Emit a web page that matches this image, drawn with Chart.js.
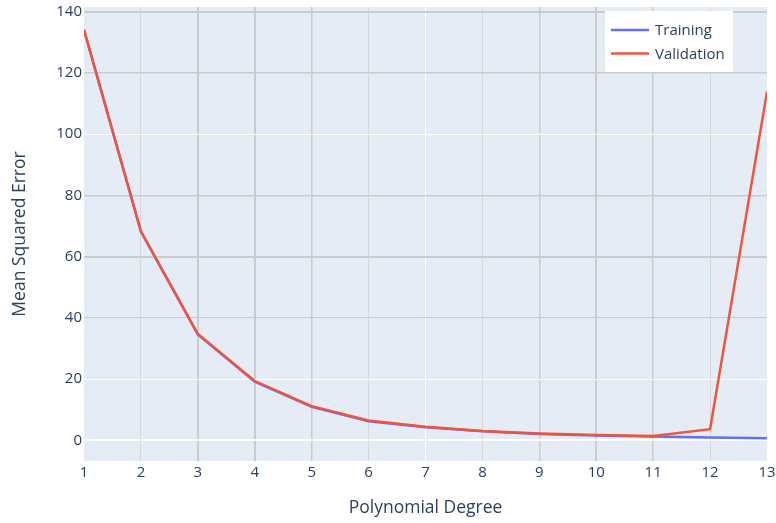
<!DOCTYPE html>
<html>
<head>
<meta charset="utf-8">
<script src="https://cdn.jsdelivr.net/npm/chart.js@4.4.0/dist/chart.umd.min.js"></script>
<style>
  html, body { margin: 0; padding: 0; background: #ffffff; }
  #wrap { width: 776px; height: 523px; position: relative; }
</style>
</head>
<body>
<div id="wrap"><canvas id="c" width="776" height="523"></canvas></div>
<script>
// ---- data ----
const degrees = [1, 2, 3, 4, 5, 6, 7, 8, 9, 10, 11, 12, 13];
const trainingMSE = [134.0, 68.2, 34.6, 19.2, 11.0, 6.3, 4.3, 3.0, 2.1, 1.6, 1.3, 1.0, 0.7];
const validationMSE = [134.1, 68.3, 34.8, 19.4, 11.2, 6.5, 4.5, 3.1, 2.3, 1.8, 1.5, 3.7, 113.8];
const xTicks = [1, 2, 3, 4, 5, 6, 7, 8, 9, 10, 11, 12, 13];
const yTicks = [0, 20, 40, 60, 80, 100, 120, 140];
const seriesNames = ['Training', 'Validation'];

// ---- styles ----
const TEXT = '#2a3f5f';
const FONT = '"Open Sans", "Liberation Sans", Arial, sans-serif';
const PLOT_BG = '#E5ECF6';
const GRAY = '#cbcbcb';
const LIGHT = '#d6d6d6';
// grid appearance per tick (as seen in the reference)
const xGridStyle = {2:[LIGHT,1],3:[GRAY,2],4:[GRAY,2],5:[GRAY,1.5],6:[LIGHT,1],7:['#ffffff',1],8:[LIGHT,1],9:[GRAY,1.5],10:[GRAY,2],11:[GRAY,1.5],12:[LIGHT,1]};
const yGridStyle = {0:['#ffffff',2],20:['#ffffff',1],40:[GRAY,1],60:[GRAY,2],80:[GRAY,1.5],100:['#ffffff',1],120:[GRAY,1.5],140:[GRAY,2]};

const toPts = (xs, ys) => xs.map((x, i) => ({x: x, y: ys[i]}));

const plotBg = {
  id: 'plotBg',
  beforeDraw(chart) {
    const {ctx, chartArea: a} = chart;
    ctx.save();
    ctx.fillStyle = PLOT_BG;
    ctx.fillRect(a.left, a.top, a.right - a.left, a.bottom - a.top);
    ctx.restore();
  }
};

const boxLegend = {
  id: 'boxLegend',
  afterDraw(chart) {
    const {ctx, chartArea: a} = chart;
    const bx = a.right - 162, by = a.top + 4, bw = 128, bh = 61;
    ctx.save();
    ctx.fillStyle = '#ffffff';
    ctx.fillRect(bx, by, bw, bh);
    ctx.font = '15px ' + FONT;
    ctx.textBaseline = 'middle';
    ctx.textAlign = 'left';
    chart.data.datasets.forEach((ds, i) => {
      const y = by + 19 + i * 23.5;
      ctx.strokeStyle = ds.borderColor;
      ctx.lineWidth = 2.5;
      ctx.beginPath();
      ctx.moveTo(bx + 6, y);
      ctx.lineTo(bx + 44, y);
      ctx.stroke();
      ctx.fillStyle = TEXT;
      ctx.fillText(ds.label, bx + 50, y + 1);
    });
    ctx.restore();
  }
};

new Chart(document.getElementById('c'), {
  type: 'line',
  data: {
    datasets: [
      { label: seriesNames[0], data: toPts(degrees, trainingMSE), borderColor: '#636EFA', backgroundColor: '#636EFA', borderWidth: 2.5, pointRadius: 0, tension: 0, order: 2 },
      { label: seriesNames[1], data: toPts(degrees, validationMSE), borderColor: '#EF553B', backgroundColor: '#EF553B', borderWidth: 2.5, pointRadius: 0, tension: 0, order: 1 }
    ]
  },
  options: {
    responsive: false,
    animation: false,
    events: [],
    layout: { padding: { left: 0, right: 9, top: 7, bottom: 0 } },
    plugins: { legend: { display: false }, tooltip: { enabled: false } },
    scales: {
      x: {
        type: 'linear', min: 1, max: 13,
        afterFit(s) { s.height = 62; s.paddingLeft = 0; s.paddingRight = 0; },
        afterBuildTicks(s) { s.ticks = xTicks.map(v => ({ value: v })); },
        border: { display: false },
        grid: {
          drawTicks: false,
          color: c => (xGridStyle[c.tick && c.tick.value] || ['rgba(0,0,0,0)', 1])[0],
          lineWidth: c => (xGridStyle[c.tick && c.tick.value] || ['rgba(0,0,0,0)', 1])[1]
        },
        ticks: { color: TEXT, font: { family: FONT, size: 15 }, padding: 3, maxRotation: 0, autoSkip: false },
        title: { display: true, text: 'Polynomial Degree', color: TEXT, font: { family: FONT, size: 17.5 }, padding: { top: 0, bottom: 4.5 } }
      },
      y: {
        type: 'linear', min: -6.7, max: 141.5,
        afterFit(s) { s.width = 84; s.paddingTop = 0; s.paddingBottom = 0; },
        afterBuildTicks(s) { s.ticks = yTicks.map(v => ({ value: v })); },
        border: { display: false },
        grid: {
          drawTicks: false,
          color: c => (yGridStyle[c.tick && c.tick.value] || ['rgba(0,0,0,0)', 1])[0],
          lineWidth: c => (yGridStyle[c.tick && c.tick.value] || ['rgba(0,0,0,0)', 1])[1]
        },
        ticks: { color: TEXT, font: { family: FONT, size: 15 }, padding: 2 },
        title: { display: true, text: 'Mean Squared Error', color: TEXT, font: { family: FONT, size: 17.5 }, padding: { top: 9.5, bottom: 0 } }
      }
    }
  },
  plugins: [plotBg, boxLegend]
});
</script>
</body>
</html>
